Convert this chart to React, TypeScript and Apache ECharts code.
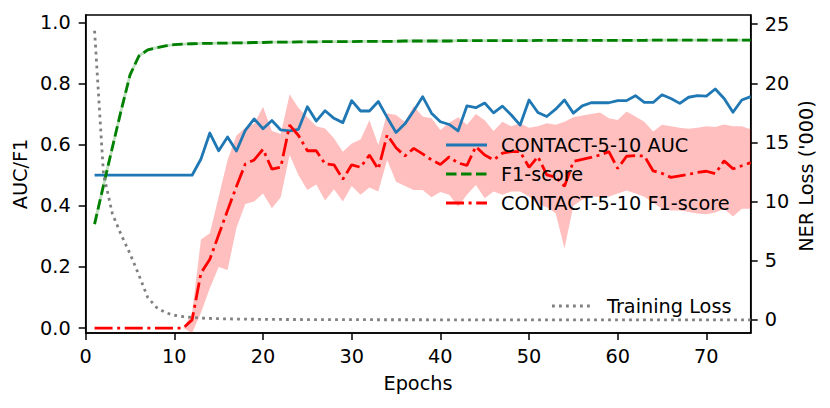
import React, { useEffect, useRef } from "react";
import * as echarts from "echarts";

const EPOCHS: number[] = Array.from({ length: 75 }, (_, i) => i + 1);

const AUC: number[] = [
  0.5, 0.5, 0.5, 0.5, 0.5, 0.5, 0.5, 0.5, 0.5, 0.5,
  0.5, 0.5, 0.553, 0.638, 0.58, 0.625, 0.579, 0.647, 0.684, 0.652,
  0.679, 0.648, 0.645, 0.65, 0.724, 0.677, 0.711, 0.686, 0.672, 0.744,
  0.71, 0.71, 0.741, 0.689, 0.64, 0.668, 0.711, 0.757, 0.703, 0.675,
  0.666, 0.645, 0.727, 0.721, 0.736, 0.704, 0.726, 0.697, 0.664, 0.746,
  0.705, 0.692, 0.716, 0.746, 0.703, 0.727, 0.737, 0.737, 0.737, 0.744,
  0.744, 0.76, 0.738, 0.738, 0.763, 0.751, 0.735, 0.755, 0.76, 0.759,
  0.782, 0.751, 0.706, 0.746, 0.757,
];

const F1_BASE: number[] = [
  0.34, 0.466, 0.59, 0.712, 0.828, 0.89, 0.91, 0.917, 0.923, 0.927,
  0.929, 0.93, 0.931, 0.931, 0.932, 0.932, 0.933, 0.933, 0.934, 0.934,
  0.935, 0.935, 0.935, 0.936, 0.936, 0.936, 0.937, 0.937, 0.937, 0.937,
  0.938, 0.938, 0.938, 0.938, 0.938, 0.939, 0.939, 0.939, 0.939, 0.939,
  0.939, 0.94, 0.94, 0.94, 0.94, 0.94, 0.94, 0.94, 0.94, 0.94,
  0.941, 0.941, 0.941, 0.941, 0.941, 0.941, 0.941, 0.941, 0.941, 0.941,
  0.941, 0.941, 0.941, 0.942, 0.942, 0.942, 0.942, 0.942, 0.942, 0.942,
  0.942, 0.942, 0.942, 0.942, 0.942,
];

const F1_CONTACT: number[] = [
  0, 0, 0, 0, 0, 0, 0, 0, 0, 0,
  0, 0.027, 0.18, 0.225, 0.305, 0.385, 0.463, 0.537, 0.55, 0.585,
  0.52, 0.526, 0.664, 0.63, 0.58, 0.58, 0.537, 0.534, 0.487, 0.534,
  0.526, 0.566, 0.52, 0.632, 0.59, 0.563, 0.588, 0.57, 0.55, 0.535,
  0.56, 0.54, 0.532, 0.594, 0.566, 0.55, 0.572, 0.577, 0.577, 0.526,
  0.561, 0.501, 0.494, 0.464, 0.545, 0.552, 0.558, 0.566, 0.577, 0.522,
  0.562, 0.564, 0.563, 0.514, 0.506, 0.493, 0.498, 0.503, 0.509, 0.513,
  0.505, 0.547, 0.521, 0.531, 0.541,
];

const F1_UPPER: number[] = [
  0, 0, 0, 0, 0, 0, 0, 0, 0, 0,
  0, 0.05, 0.29, 0.31, 0.43, 0.55, 0.63, 0.655, 0.668, 0.724,
  0.645, 0.635, 0.765, 0.72, 0.69, 0.66, 0.653, 0.621, 0.577, 0.604,
  0.617, 0.68, 0.599, 0.703, 0.697, 0.675, 0.726, 0.692, 0.686, 0.648,
  0.672, 0.69, 0.665, 0.7, 0.68, 0.645, 0.675, 0.66, 0.67, 0.655,
  0.66, 0.67, 0.665, 0.675, 0.69, 0.695, 0.7, 0.705, 0.686, 0.681,
  0.708, 0.692, 0.675, 0.643, 0.665, 0.66, 0.655, 0.652, 0.655, 0.66,
  0.658, 0.666, 0.66, 0.66, 0.65,
];

const F1_LOWER: number[] = [
  0, 0, 0, 0, 0, 0, 0, 0, 0, 0,
  0, -0.016, 0.05, 0.13, 0.2, 0.19, 0.327, 0.406, 0.414, 0.44,
  0.392, 0.428, 0.566, 0.5, 0.452, 0.47, 0.417, 0.454, 0.414, 0.465,
  0.436, 0.46, 0.447, 0.55, 0.479, 0.465, 0.452, 0.452, 0.428, 0.445,
  0.436, 0.398, 0.436, 0.468, 0.425, 0.447, 0.436, 0.447, 0.447, 0.43,
  0.405, 0.395, 0.376, 0.26, 0.4, 0.42, 0.43, 0.43, 0.43, 0.44,
  0.45, 0.44, 0.43, 0.41, 0.39, 0.385, 0.385, 0.38, 0.375, 0.372,
  0.378, 0.39, 0.365, 0.39, 0.39,
];

const TRAIN_LOSS: number[] = [
  24.45, 12.4, 9.0, 7.2, 5.6, 3.8, 1.9, 1.05, 0.62, 0.4,
  0.28, 0.21, 0.16, 0.13, 0.11, 0.09, 0.08, 0.07, 0.06, 0.055,
  0.05, 0.045, 0.04, 0.04, 0.035, 0.035, 0.03, 0.03, 0.03, 0.025,
  0.025, 0.025, 0.02, 0.02, 0.02, 0.02, 0.02, 0.02, 0.015, 0.015,
  0.015, 0.015, 0.015, 0.015, 0.015, 0.01, 0.01, 0.01, 0.01, 0.01,
  0.01, 0.01, 0.01, 0.01, 0.01, 0.01, 0.01, 0.01, 0.01, 0.01,
  0.01, 0.01, 0.01, 0.01, 0.01, 0.01, 0.01, 0.01, 0.01, 0.01,
  0.01, 0.01, 0.01, 0.01, 0.01,
];

const X_TICKS = [0, 10, 20, 30, 40, 50, 60, 70];
const Y_LEFT_TICKS = [0, 0.2, 0.4, 0.6, 0.8, 1.0];
const Y_RIGHT_TICKS = [0, 5, 10, 15, 20, 25];

const FONT = "DejaVu Sans";
const FS = 19.3;

export default function App() {
  const ref = useRef<HTMLDivElement>(null);

  useEffect(() => {
    if (!ref.current) return;
    const chart = echarts.init(ref.current, null, { renderer: "svg" });
    const pairs = (arr: number[]) => EPOCHS.map((e, i) => [e, arr[i]]);
    const lw = 2.8;
    const labelStyle = { fontSize: FS, fontFamily: FONT, color: "#000" };
    const tickStyle = { color: "#000", width: 1.5 };

    const bandData = EPOCHS.map((e, i) => [e, F1_LOWER[i], F1_UPPER[i]]);

    const option: any = {
      animation: false,
      textStyle: { fontFamily: FONT },
      grid: {
        left: 85.7,
        right: 79.3,
        top: 15,
        bottom: 75,
        show: true,
        borderColor: "#000",
        borderWidth: 1.5,
        backgroundColor: "transparent",
      },
      xAxis: {
        type: "value",
        min: 0,
        max: 75,
        axisLine: { show: true, onZero: false, lineStyle: tickStyle },
        axisTick: { show: true, length: 7, lineStyle: tickStyle, customValues: X_TICKS },
        axisLabel: { ...labelStyle, margin: 14, customValues: X_TICKS, formatter: (v: number) => String(v) },
        splitLine: { show: false },
      },
      yAxis: [
        {
          type: "value",
          min: -0.016,
          max: 1.024,
          position: "left",
          axisLine: { show: true, onZero: false, lineStyle: tickStyle },
          axisTick: { show: true, length: 7, lineStyle: tickStyle, customValues: Y_LEFT_TICKS },
          axisLabel: { ...labelStyle, margin: 15, customValues: Y_LEFT_TICKS, formatter: (v: number) => v.toFixed(1) },
          splitLine: { show: false },
        },
        {
          type: "value",
          min: -1.1,
          max: 25.78,
          position: "right",
          axisLine: { show: true, onZero: false, lineStyle: tickStyle },
          axisTick: { show: true, length: 7, lineStyle: tickStyle, customValues: Y_RIGHT_TICKS },
          axisLabel: { ...labelStyle, margin: 14, customValues: Y_RIGHT_TICKS, formatter: (v: number) => String(v) },
          splitLine: { show: false },
        },
      ],
      series: [
        {
          type: "custom",
          yAxisIndex: 0,
          data: bandData,
          encode: { x: 0, y: [1, 2] },
          silent: true,
          renderItem: (params: any, api: any) => {
            if (params.dataIndex !== 0) return null;
            const top = bandData.map((d) => api.coord([d[0], d[2]]));
            const bottom = bandData.map((d) => api.coord([d[0], d[1]])).reverse();
            return {
              type: "polygon",
              shape: { points: top.concat(bottom) },
              style: { fill: "rgba(255,0,0,0.25)", stroke: "none" },
            };
          },
        },
        {
          name: "CONTACT-5-10 AUC",
          type: "line",
          yAxisIndex: 0,
          data: pairs(AUC),
          symbol: "none",
          lineStyle: { color: "#1f77b4", width: lw, cap: "butt", join: "round" },
        },
        {
          type: "line",
          yAxisIndex: 0,
          data: pairs(F1_BASE),
          symbol: "none",
          lineStyle: { color: "rgba(0,128,0,0.25)", width: lw },
          silent: true,
        },
        {
          name: "F1-score",
          type: "line",
          yAxisIndex: 0,
          data: pairs(F1_BASE),
          symbol: "none",
          lineStyle: { color: "#008000", width: lw, type: [10.5, 4.5], cap: "butt" },
        },
        {
          name: "CONTACT-5-10 F1-score",
          type: "line",
          yAxisIndex: 0,
          data: pairs(F1_CONTACT),
          symbol: "none",
          lineStyle: { color: "#ff0000", width: lw, type: [18, 4.6, 3, 4.6], cap: "butt" },
        },
        {
          name: "Training Loss",
          type: "line",
          yAxisIndex: 1,
          data: pairs(TRAIN_LOSS),
          symbol: "none",
          lineStyle: { color: "#808080", width: lw, type: [2.8, 4.2], cap: "butt" },
        },
      ],
      graphic: [
        { type: "line", z: 100, shape: { x1: 446, y1: 145, x2: 487, y2: 145 }, style: { stroke: "#1f77b4", lineWidth: lw } },
        { type: "line", z: 100, shape: { x1: 446, y1: 174, x2: 487, y2: 174 }, style: { stroke: "#008000", lineWidth: lw, lineDash: [10.5, 4.5] } },
        { type: "line", z: 100, shape: { x1: 446, y1: 203, x2: 487, y2: 203 }, style: { stroke: "#ff0000", lineWidth: lw, lineDash: [18, 4.6, 3, 4.6] } },
        { type: "line", z: 100, shape: { x1: 552, y1: 306, x2: 593, y2: 306 }, style: { stroke: "#808080", lineWidth: lw, lineDash: [2.8, 4.2] } },
        { type: "text", z: 100, x: 501, y: 145, style: { text: "CONTACT-5-10 AUC", fontSize: FS, fontFamily: FONT, fill: "#000", align: "left", verticalAlign: "middle" } },
        { type: "text", z: 100, x: 501, y: 174, style: { text: "F1-score", fontSize: FS, fontFamily: FONT, fill: "#000", align: "left", verticalAlign: "middle" } },
        { type: "text", z: 100, x: 501, y: 203, style: { text: "CONTACT-5-10 F1-score", fontSize: FS, fontFamily: FONT, fill: "#000", align: "left", verticalAlign: "middle" } },
        { type: "text", z: 100, x: 607, y: 306, style: { text: "Training Loss", fontSize: FS, fontFamily: FONT, fill: "#000", align: "left", verticalAlign: "middle" } },
        { type: "text", z: 100, x: 418, y: 383, style: { text: "Epochs", fontSize: FS, fontFamily: FONT, fill: "#000", align: "center", verticalAlign: "middle" } },
        { type: "text", z: 100, x: 20, y: 174, rotation: Math.PI / 2, style: { text: "AUC/F1", fontSize: FS, fontFamily: FONT, fill: "#000", align: "center", verticalAlign: "middle" } },
        { type: "text", z: 100, x: 806, y: 176, rotation: Math.PI / 2, style: { text: "NER Loss ('000)", fontSize: FS, fontFamily: FONT, fill: "#000", align: "center", verticalAlign: "middle" } },
      ],
    };
    chart.setOption(option);
    return () => chart.dispose();
  }, []);

  return (
    <div
      ref={ref}
      style={{ position: "fixed", left: 0, top: 0, width: 830, height: 408, background: "#fff" }}
    />
  );
}
